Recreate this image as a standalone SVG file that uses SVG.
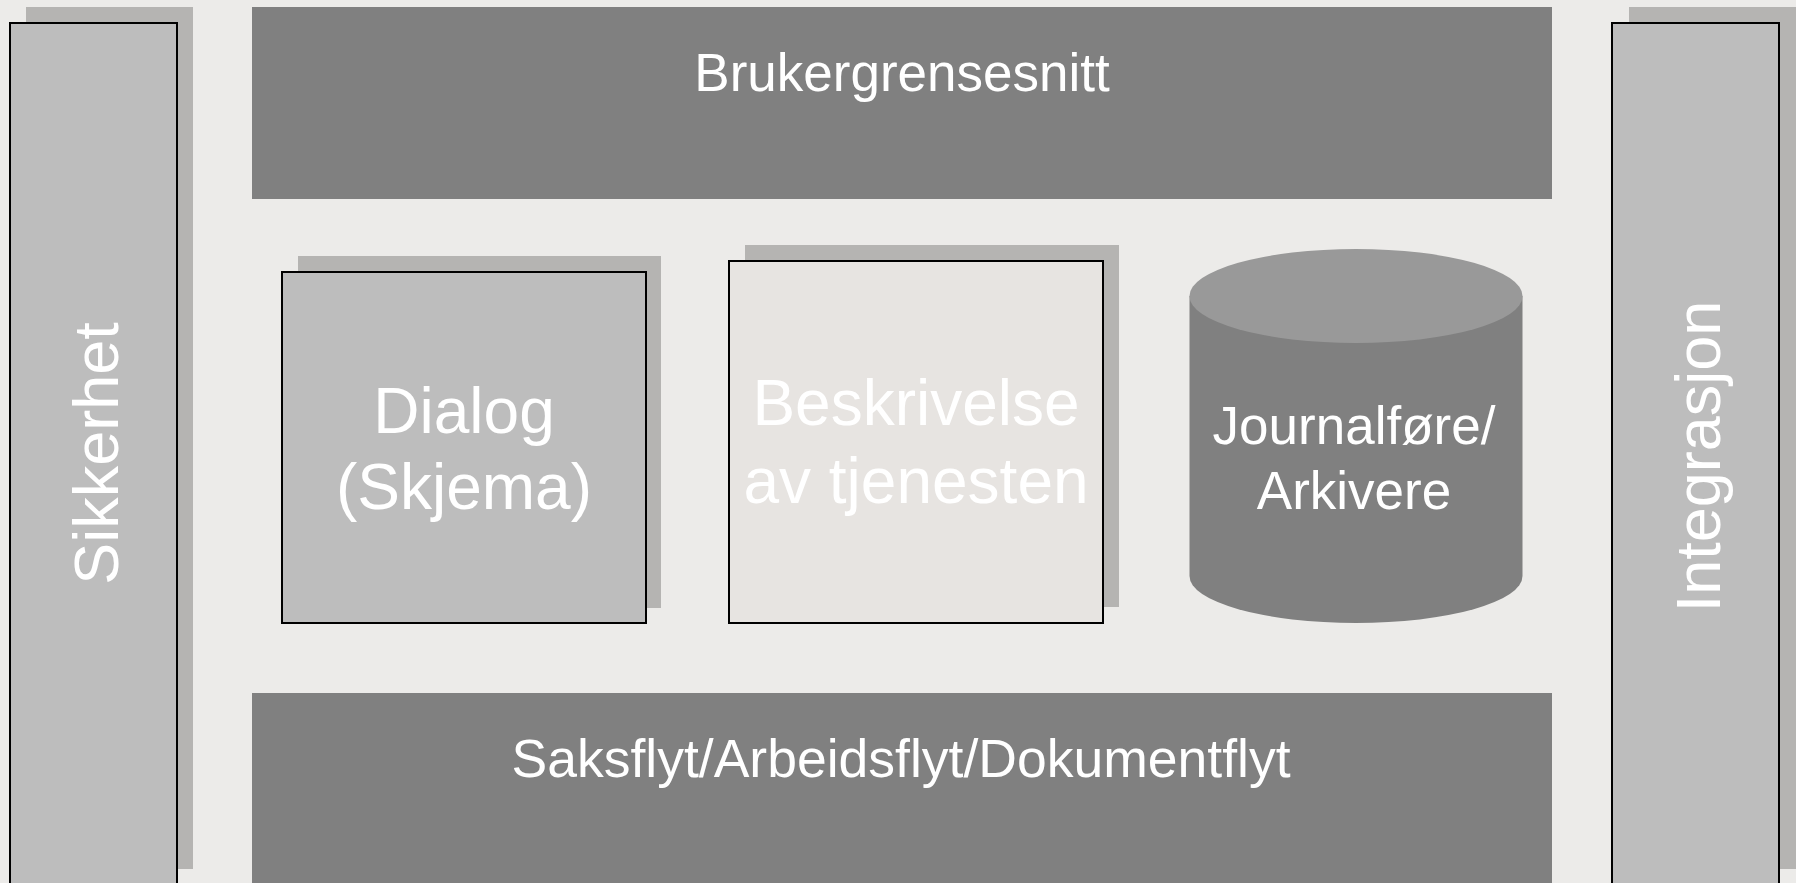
<svg xmlns="http://www.w3.org/2000/svg" width="1796" height="883" viewBox="0 0 1796 883">
<style>
.bg{fill:#ECEBE9}
.band{fill:#808080}
.shadow{fill:#B5B4B2}
.box{fill:#BDBDBD;stroke:#000;stroke-width:2}
.lt{fill:#E7E4E1;stroke:#000;stroke-width:2}
.t{font-family:"Liberation Sans",Arial,sans-serif;fill:#FFFFFF;text-anchor:middle}
</style>
<rect class="bg" x="0" y="0" width="1796" height="883"/>
<g id="sikkerhet">
<rect class="shadow" x="26" y="7" width="167" height="862"/>
<rect class="box" x="10" y="23" width="167" height="880"/>
<text class="t" font-size="63" transform="translate(118,453.5) rotate(-90)">Sikkerhet</text>
</g>
<g id="integrasjon">
<rect class="shadow" x="1629" y="7" width="180" height="862"/>
<rect class="box" x="1612" y="23" width="167" height="880"/>
<text class="t" font-size="63" transform="translate(1720,456.5) rotate(-90)">Integrasjon</text>
</g>
<g id="brukergrensesnitt">
<rect class="band" x="252" y="7" width="1300" height="192"/>
<text class="t" font-size="53" x="902" y="90.5">Brukergrensesnitt</text>
</g>
<g id="saksflyt">
<rect class="band" x="252" y="693" width="1300" height="200"/>
<text class="t" font-size="53.5" x="901" y="777">Saksflyt/Arbeidsflyt/Dokumentflyt</text>
</g>
<g id="dialog">
<rect class="shadow" x="298" y="256" width="363" height="352"/>
<rect class="box" x="282" y="272" width="364" height="351"/>
<text class="t" font-size="64" x="464" y="432.5">Dialog</text>
<text class="t" font-size="64" x="464" y="509">(Skjema)</text>
</g>
<g id="beskrivelse">
<rect class="shadow" x="745" y="245" width="374" height="362"/>
<rect class="lt" x="729" y="261" width="374" height="362"/>
<text class="t" font-size="64" x="916" y="425">Beskrivelse</text>
<text class="t" font-size="64" x="916" y="502.5">av tjenesten</text>
</g>
<g id="journal">
<path d="M1189.5,296 L1189.5,576 A166.5,47 0 0 0 1522.5,576 L1522.5,296 Z" fill="#808080"/>
<ellipse cx="1356" cy="296" rx="166.5" ry="47" fill="#999999"/>
<text class="t" font-size="53" x="1354" y="444">Journalføre/</text>
<text class="t" font-size="53" x="1354" y="509">Arkivere</text>
</g>
<g id="connectors"></g>
</svg>
